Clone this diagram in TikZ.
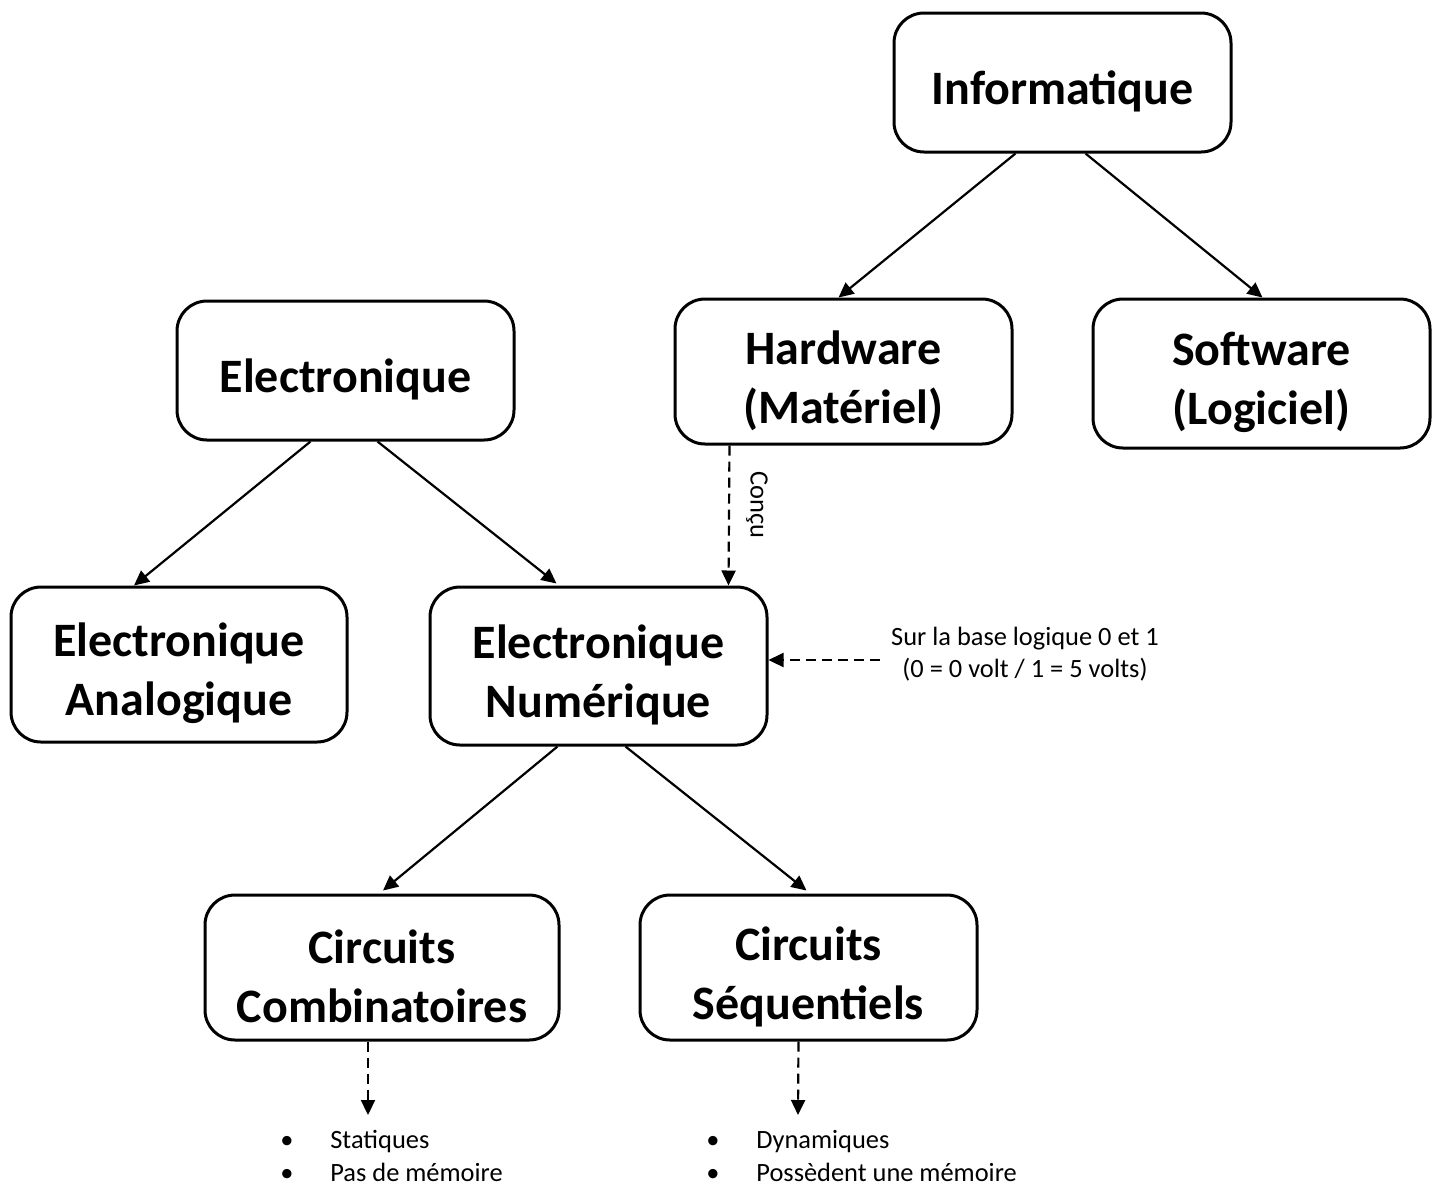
\documentclass[tikz,border=0pt]{standalone}
\usepackage{fontspec}
\setmainfont{Carlito}
\usetikzlibrary{arrows.meta,calc}
\begin{document}
\begin{tikzpicture}[x=0.5pt,y=-0.5pt,
  box/.style={draw,line width=1.5pt,rounded corners=15pt,inner sep=0pt},
  boxtxt/.style={align=center,font=\fontsize{24}{29.5}\selectfont\bfseries,inner sep=0pt},
  conn/.style={line width=1.1pt,-{Triangle[length=7.5pt,width=7pt]}},
  dconn/.style={line width=1.1pt,dash pattern=on 5pt off 3pt,-{Triangle[length=7.5pt,width=7pt]}},
  lbl/.style={font=\fontsize{13.2}{16.3}\selectfont,align=center,inner sep=0pt}]
\useasboundingbox (0,0) rectangle (1436,1185);
\node[box,minimum width=168.5pt,minimum height=69.5pt] (inf) at (1062.5,82.5) {};
\node[box,minimum width=168.5pt,minimum height=72.5pt] (hw) at (843.5,371.5) {};
\node[box,minimum width=168.5pt,minimum height=74.5pt] (sw) at (1261.5,373.5) {};
\node[box,minimum width=168.5pt,minimum height=69.5pt] (el) at (345.5,370.5) {};
\node[box,minimum width=168pt,minimum height=77.5pt] (ea) at (179,664.5) {};
\node[box,minimum width=168.5pt,minimum height=79pt] (en) at (598.5,666) {};
\node[box,minimum width=177pt,minimum height=72.5pt] (cc) at (382,967.5) {};
\node[box,minimum width=168.5pt,minimum height=72.5pt] (cs) at (808.5,967.5) {};

\node[boxtxt] (tinf) at ($(inf.center)+(0,9)$) {Informatique};
\node[boxtxt] (thw) at ($(hw.center)+(0,9)$) {Hardware\\(Matériel)};
\node[boxtxt] (tsw) at ($(sw.center)+(0,9)$) {Software\\(Logiciel)};
\node[boxtxt] (tel) at ($(el.center)+(0,9)$) {Electronique};
\node[boxtxt] (tea) at ($(ea.center)+(0,9)$) {Electronique\\Analogique};
\node[boxtxt] (ten) at ($(en.center)+(0,9)$) {Electronique\\Numérique};
\node[boxtxt] (tcc) at ($(cc.center)+(0,9)$) {Circuits\\Combinatoires};
\node[boxtxt] (tcs) at ($(cs.center)+(0,9)$) {Circuits\\Séquentiels};

\draw[conn] ($(inf.south)+(-47,0)$) -- ($(hw.north)+(-5,0)$);
\draw[conn] ($(inf.south)+(23,0)$) -- ($(sw.north)+(1,0)$);
\draw[conn] ($(el.south)+(-35,0)$) -- ($(ea.north)+(-45,0)$);
\draw[conn] ($(el.south)+(32,0)$) -- ($(en.north)+(-42,-2)$);
\draw[conn] ($(en.south)+(-41,0)$) -- ($(cc.north)+(1,-3)$);
\draw[conn] ($(en.south)+(27,0)$) -- ($(cs.north)+(-2,-3)$);

\draw[dconn] ($(hw.south)+(-114,0)$) -- ($(en.north)+(130,0)$);
\node[lbl,rotate=-90] (concu) at (757,505) {Conçu};

\node[lbl] (base) at (1025,654) {Sur la base logique 0 et 1\\(0 = 0 volt / 1 = 5 volts)};
\coordinate (bs) at (880,660);
\draw[dconn] (bs) -- (bs -| en.east);

\coordinate (c1) at ($(cc.south)+(-14,0)$);
\coordinate (c2) at (368,1115);
\draw[dconn] (c1) -- (c2);
\coordinate (s1) at ($(cs.south)+(-10,0)$);
\coordinate (s2) at (798,1115);
\draw[dconn] (s1) -- (s2);

\node[lbl,anchor=north west,align=left] (lc) at (280,1130) {\makebox[25pt][l]{•}Statiques\\\makebox[25pt][l]{•}Pas de mémoire};
\node[lbl,anchor=north west,align=left] (ls) at (706,1130) {\makebox[25pt][l]{•}Dynamiques\\\makebox[25pt][l]{•}Possèdent une mémoire};
\end{tikzpicture}
\end{document}
